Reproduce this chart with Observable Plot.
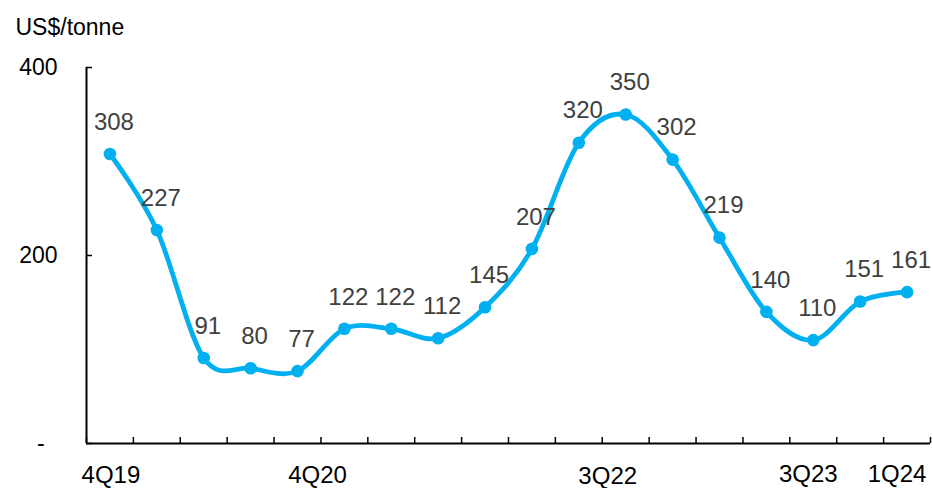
<!DOCTYPE html>
<html><head><meta charset="utf-8">
<script src="https://cdn.jsdelivr.net/npm/d3@7"></script>
<script src="https://cdn.jsdelivr.net/npm/@observablehq/plot@0.6"></script>
<style>body{margin:0;background:#fff}</style>
</head><body><div id="chart"></div>
<script>
const quarters = ["4Q19","1Q20","2Q20","3Q20","4Q20","1Q21","2Q21","3Q21","4Q21","1Q22","2Q22","3Q22","4Q22","1Q23","2Q23","3Q23","4Q23","1Q24"];
const values = [308,227,91,80,77,122,122,112,145,207,320,350,302,219,140,110,151,161];
const shownTicks = ["4Q19","4Q20","3Q22","3Q23","1Q24"];
const yTicks = [0,200,400];
const yTitle = "US$/tonne";

const data = quarters.map((q,i)=>({i, q, v: values[i]}));
const idx = q => quarters.indexOf(q);
const boundaries = d3.range(quarters.length+1).map(i=>i-0.5);
const blue = "#00B0F0";
const font = "'Liberation Sans', Arial, Helvetica, sans-serif";

// per-label nudges mimic the original layout of the category labels
const labelNudge = {"4Q19":[1,32],"4Q20":[20,32],"3Q22":[-18,33],"3Q23":[-5,31],"1Q24":[-10,31]};
const tickLabelMarks = shownTicks.map(q => Plot.text([q], {
  x: d => idx(d), y: 0, text: d => d, dx: labelNudge[q][0], dy: labelNudge[q][1],
  fontSize: 24, fill: "#000", lineAnchor: "middle"
}));

const chart = Plot.plot({
  width: 933, height: 488,
  marginTop: 67, marginBottom: 45, marginLeft: 86, marginRight: 3,
  x: {type: "linear", domain: [-0.5, quarters.length - 0.5], axis: null},
  y: {domain: [0, 400], axis: null},
  style: {fontFamily: font, background: "#fff"},
  marks: [
    Plot.ruleX([-0.5], {x: d=>d, y1: 0, y2: 400, stroke: "#000", strokeWidth: 2}),
    Plot.ruleY([0], {y: d=>d, x1: -0.5, x2: quarters.length - 0.5, stroke: "#000", strokeWidth: 2}),
    Plot.ruleY(yTicks, {y: d=>d, x1: -0.5, x2: -0.5, insetRight: -6, stroke: "#000", strokeWidth: 1.5}),
    Plot.ruleX(boundaries, {x: d=>d, y1: 0, y2: 0, insetTop: -6, stroke: "#000", strokeWidth: 1.5}),
    Plot.text(yTicks, {x: -0.5, y: d=>d, text: d => d === 0 ? "-\u00a0\u00a0" : String(d), textAnchor: "end", dx: -29, fontSize: 23, fill: "#000"}),
    ...tickLabelMarks,
    Plot.line(data, {x: "i", y: "v", curve: "cardinal", tension: 0, stroke: blue, strokeWidth: 4.8}),
    Plot.dot(data, {x: "i", y: "v", r: 6.3, fill: blue}),
    Plot.text(data, {x: "i", y: "v", text: d => String(d.v), dx: 4, dy: -32, fontSize: 24, fill: "#404040"}),
    Plot.text([yTitle], {frameAnchor: "top-left", text: d => d, textAnchor: "start", dx: -71, dy: -49, fontSize: 23, fill: "#000"})
  ]
});
document.getElementById("chart").appendChild(chart);
</script>
</body></html>
